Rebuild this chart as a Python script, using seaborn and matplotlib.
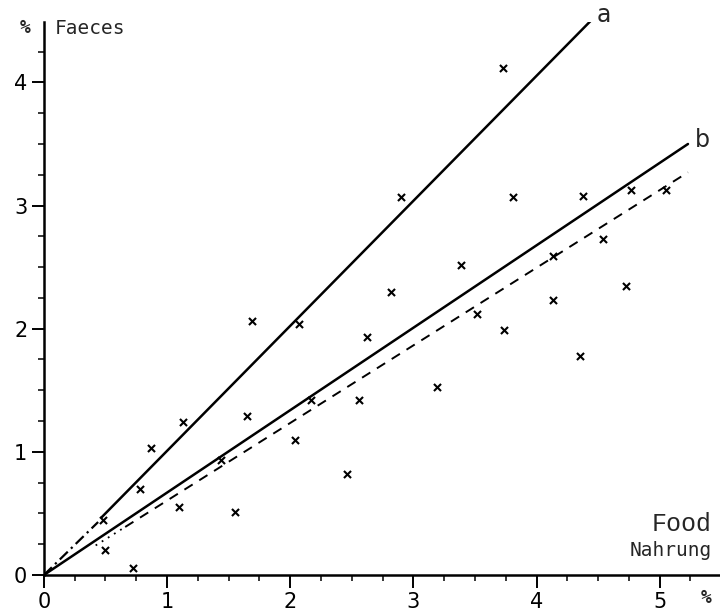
import matplotlib
matplotlib.use("Agg")
import matplotlib.pyplot as plt
from matplotlib.ticker import MultipleLocator
import numpy as np
import pandas as pd
import seaborn as sns

# Measured concentrations (% of food vs % in faeces)
food = [0.48, 0.50, 0.72, 0.78, 0.87, 1.10, 1.13, 1.44, 1.55, 1.65,
        1.69, 2.04, 2.07, 2.17, 2.46, 2.56, 2.62, 2.82, 2.90, 3.19,
        3.39, 3.52, 3.73, 3.74, 3.81, 4.13, 4.13, 4.35, 4.38, 4.54,
        4.73, 4.77, 5.05]
faeces = [0.45, 0.20, 0.06, 0.70, 1.03, 0.55, 1.24, 0.93, 0.51, 1.29,
          2.06, 1.10, 2.04, 1.42, 0.82, 1.42, 1.93, 2.30, 3.07, 1.53,
          2.52, 2.12, 4.12, 1.99, 3.07, 2.59, 2.23, 1.78, 3.08, 2.73,
          2.35, 3.13, 3.13]

# Regression lines
line_a_start_x = [0.0, 0.44]
line_a_start_y = [0.0, 0.43]
line_a_x = [0.47, 4.45]
line_a_y = [0.47, 4.51]
line_b_x = [0.0, 5.23]
line_b_y = [0.0, 3.50]
line_c_dot_x = [0.42, 0.66]
line_c_dot_y = [0.24, 0.39]
line_c_x = [0.66, 5.23]
line_c_y = [0.39, 3.27]

x_ticks = [0, 1, 2, 3, 4, 5]
y_ticks = [0, 1, 2, 3, 4]

sns.set_style("ticks")
plt.rcParams["font.family"] = ["DejaVu Sans"]

fig = plt.figure(figsize=(7.2, 6.13), dpi=100)
ax = fig.add_axes([0.061, 0.062, 0.939, 0.902])

pts = pd.DataFrame({"food": food, "faeces": faeces})
sns.scatterplot(data=pts, x="food", y="faeces", marker="x", s=26,
                color="black", linewidth=1.5, ax=ax, zorder=3)

sns.lineplot(x=line_a_start_x, y=line_a_start_y, color="black", lw=1.6,
             ax=ax, linestyle=(0, (5, 2, 1, 2)))
sns.lineplot(x=line_a_x, y=line_a_y, color="black", lw=1.8, ax=ax)
sns.lineplot(x=line_b_x, y=line_b_y, color="black", lw=1.8, ax=ax)
sns.lineplot(x=line_c_dot_x, y=line_c_dot_y, color="black", lw=1.3, ax=ax,
             linestyle=(0, (1, 3)))
sns.lineplot(x=line_c_x, y=line_c_y, color="black", lw=1.4, ax=ax,
             linestyle=(0, (5, 4)))

ax.set_xlim(0, 5.49)
ax.set_ylim(0, 4.49)
ax.set_xticks(x_ticks)
ax.set_yticks(y_ticks)
ax.xaxis.set_minor_locator(MultipleLocator(0.25))
ax.yaxis.set_minor_locator(MultipleLocator(0.25))
ax.tick_params(which="major", direction="out", length=9, width=1.4,
               labelsize=15, pad=3, color="black", labelcolor="black")
ax.tick_params(which="minor", direction="out", length=4, width=1.1,
               color="black")
ax.set_xlabel("")
ax.set_ylabel("")
for side in ["top", "right"]:
    ax.spines[side].set_visible(False)
for side in ["left", "bottom"]:
    ax.spines[side].set_linewidth(1.8)
    ax.spines[side].set_color("black")

mono = ["DejaVu Sans Mono"]
fig.text(25 / 720, 1 - 28 / 613, "%", fontsize=13, ha="center", va="center",
         family=mono, fontweight="bold")
fig.text(55 / 720, 1 - 28 / 613, "Faeces", fontsize=14, ha="left",
         va="center", family=mono)
fig.text(712 / 720, 1 - 524 / 613, "Food", fontsize=18, ha="right",
         va="center", family=["Liberation Mono"])
fig.text(712 / 720, 1 - 550 / 613, "Nahrung", fontsize=14, ha="right",
         va="center", family=mono)
fig.text(706 / 720, 1 - 598 / 613, "%", fontsize=13, ha="center",
         va="center", family=mono, fontweight="bold")
ax.text(4.55, 4.55, "a", fontsize=17, ha="center", va="center")
ax.text(5.35, 3.53, "b", fontsize=17, ha="center", va="center")

fig.savefig("out.png", dpi=100)
